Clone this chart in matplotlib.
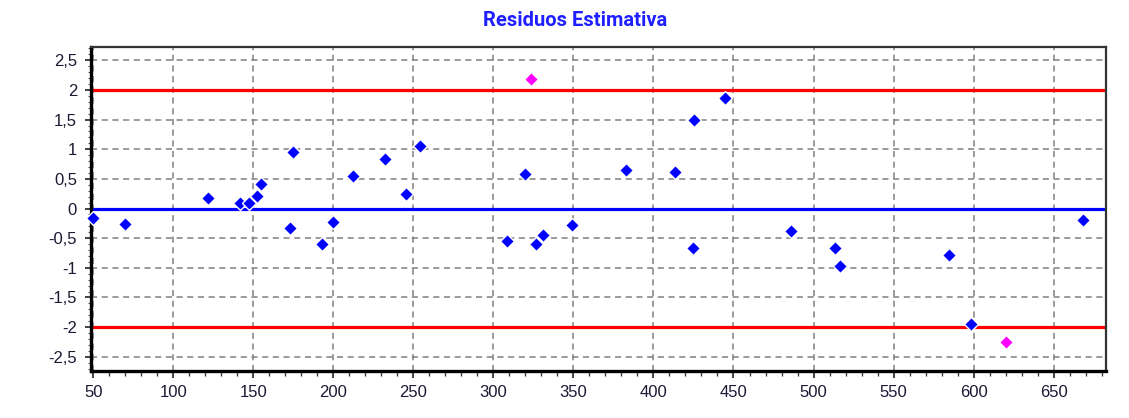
import numpy as np
import matplotlib
matplotlib.use('Agg')
import matplotlib.pyplot as plt
from matplotlib.ticker import MultipleLocator, FuncFormatter

plt.rc('font', family=['Liberation Sans', 'DejaVu Sans'], size=12)

# residuals inside the +/-2 band
x_res = [50, 70, 122, 142, 147, 152.5, 154.5, 173, 175, 193, 199.5, 212, 232, 245.5, 254,
         308.5, 320, 326.5, 331, 349, 383, 413.5, 424.5, 425.5, 444.5, 486, 513.5, 516.5,
         584.5, 598.5, 668.5]
y_res = [-0.16, -0.26, 0.18, 0.10, 0.10, 0.21, 0.41, -0.32, 0.95, -0.60, -0.22, 0.55, 0.83,
         0.24, 1.06, -0.54, 0.59, -0.60, -0.44, -0.28, 0.65, 0.62, -0.66, 1.49, 1.87, -0.38,
         -0.66, -0.97, -0.78, -1.94, -0.19]
# residuals outside the band
x_out = [323.5, 620.5]
y_out = [2.18, -2.25]
limite = 2.0
titulo = 'Residuos Estimativa'

fig = plt.figure(figsize=(11.29, 4.18), dpi=100)
ax = fig.add_axes([0.0806, 0.1124, 0.8990, 0.7759])

ax.grid(True, which='major', color='#808080', ls=(0, (4, 3)), lw=1.1)
ax.axhline(limite, color='#ff0000', lw=2.3, zorder=2)
ax.axhline(-limite, color='#ff0000', lw=2.3, zorder=2)
ax.axhline(0, color='#0000ff', lw=2.3, zorder=2)

ax.plot(x_res, y_res, 'D', ms=7.2, color='#0000ff', mec='white', mew=1.0, zorder=3, clip_on=False)
ax.plot(x_out, y_out, 'D', ms=7.2, color='#ff00ff', mec='white', mew=1.0, zorder=3, clip_on=False)

ax.set_xlim(48.6, 682.7)
ax.set_ylim(-2.74, 2.73)
ax.xaxis.set_major_locator(MultipleLocator(50))
ax.xaxis.set_minor_locator(MultipleLocator(10))
ax.yaxis.set_major_locator(MultipleLocator(0.5))
ax.yaxis.set_minor_locator(MultipleLocator(0.1))
fmt = FuncFormatter(lambda v, p: ('%g' % v).replace('.', ','))
ax.xaxis.set_major_formatter(fmt)
ax.yaxis.set_major_formatter(fmt)

ax.tick_params(axis='x', which='major', length=5, width=1.2, pad=5, colors='#222222', labelcolor='#1a1a33')
ax.tick_params(axis='x', which='minor', length=3.5, width=1.0, colors='#444444')
ax.tick_params(axis='y', which='major', length=4, width=1.2, pad=6, colors='#222222', labelcolor='#1a1a33')
ax.tick_params(axis='y', which='minor', length=2, width=0.8, colors='#555555')

for s in ['left', 'bottom']:
    ax.spines[s].set_linewidth(2.4)
    ax.spines[s].set_color('black')
for s in ['top', 'right']:
    ax.spines[s].set_linewidth(1.6)
    ax.spines[s].set_color('#333333')

fig.text(0.5095, 0.951, titulo, ha='center', va='center', color='#1f1fff',
         fontsize=14.5, fontweight='bold', family=['Roboto', 'DejaVu Sans'])

fig.savefig('out.png', dpi=100)
